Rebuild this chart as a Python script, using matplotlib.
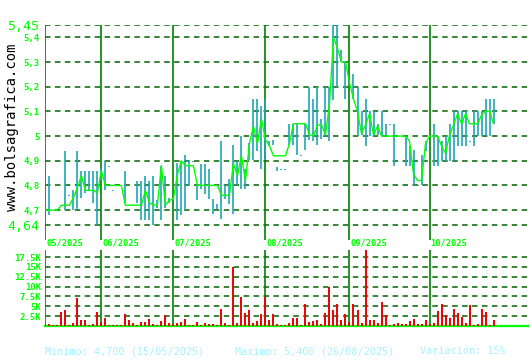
import numpy as np
import matplotlib
matplotlib.use("Agg")
import matplotlib.pyplot as plt
from matplotlib.transforms import blended_transform_factory

# cierres diarios (indice de sesion)
close = [4.70, 4.70, 4.70, 4.70, 4.72, 4.72, 4.72, 4.75, 4.79, 4.84,
         4.78, 4.78, 4.78, 4.77, 4.86, 4.80, 4.80, 4.80, 4.80, 4.80,
         4.72, 4.72, 4.72, 4.72, 4.72, 4.78, 4.73, 4.72, 4.72, 4.88,
         4.72, 4.74, 4.745, 4.845, 4.90, 4.88, 4.88, 4.88, 4.80, 4.80,
         4.80, 4.80, 4.80, 4.80, 4.76, 4.76, 4.76, 4.89, 4.84, 4.92,
         4.82, 4.97, 5.04, 4.97, 5.07, 4.985, 4.96, 4.92, 4.92, 4.92,
         4.92, 4.97, 5.05, 5.05, 5.05, 5.05, 5.005, 5.00, 5.045, 5.045,
         5.005, 5.13, 5.40, 5.355, 5.30, 5.30, 5.215, 5.15, 5.10, 5.01,
         5.045, 5.09, 5.005, 5.04, 5.00, 5.00, 5.00, 5.00, 5.00, 5.00,
         5.00, 4.98, 4.845, 4.82, 4.82, 4.97, 5.00, 5.00, 5.00, 4.96,
         4.93, 5.005, 5.045, 5.09, 5.05, 5.09, 5.05, 5.05, 5.05, 5.085,
         5.10, 5.10, 5.05]

nan = np.nan
high = [nan, 4.84, nan, nan, nan, 4.94, 4.76, 4.78, 4.94, 4.86,
        4.86, 4.86, 4.86, 4.86, 4.87, 4.90, 4.88, 4.78, nan, nan,
        4.86, nan, nan, 4.82, 4.82, 4.84, 4.82, 4.84, 4.74, 4.88,
        4.84, 4.75, nan, 4.89, 4.90, 4.925, 4.905, 4.90, 4.80, 4.885,
        4.885, 4.865, 4.745, 4.725, 4.98, 4.80, 4.825, 4.965, 4.90, 5.00,
        4.865, 4.97, 5.15, 5.15, 5.12, 5.15, 4.98, 4.985, 4.875, 4.865,
        4.865, 5.05, 5.05, 5.05, 4.925, 5.05, 5.20, 5.15, 5.20, 5.07,
        5.20, 5.20, 5.45, 5.45, 5.35, 5.30, nan, 5.25, 5.20, 5.10,
        5.15, 5.10, 5.10, 5.05, 5.10, 5.05, 5.05, 5.05, nan, nan,
        5.00, 4.96, 4.945, 4.80, 4.925, 4.98, nan, 5.05, 5.00, 4.98,
        5.00, 5.05, 5.10, 5.10, 5.10, 5.10, 4.98, 5.10, 5.10, 5.10,
        5.15, 5.15, 5.15]
low = [nan, 4.68, nan, nan, nan, 4.70, 4.76, 4.70, 4.70, 4.75,
       4.77, 4.78, 4.73, 4.64, 4.82, 4.78, 4.88, 4.78, nan, nan,
       4.73, nan, nan, 4.73, 4.66, 4.66, 4.66, 4.64, 4.71, 4.66,
       4.71, 4.73, nan, 4.66, 4.68, 4.70, 4.80, 4.90, 4.74, 4.785,
       4.765, 4.745, 4.685, 4.705, 4.665, 4.745, 4.725, 4.685, 4.80, 4.785,
       4.785, 4.905, 4.905, 4.94, 4.865, 4.905, 4.96, 4.965, 4.86, 4.865,
       4.865, 4.965, 4.965, 4.925, 4.925, 4.945, 4.985, 4.98, 4.965, 4.99,
       5.00, 4.98, 5.145, 5.20, 5.30, 5.15, nan, 5.15, 5.00, 5.005,
       4.96, 5.00, 5.00, 5.005, 5.00, 5.00, 5.05, 4.88, nan, nan,
       4.88, 4.88, 4.80, 4.80, 4.80, 4.94, nan, 4.88, 4.88, 4.90,
       4.90, 4.90, 4.90, 4.96, 4.96, 4.96, 4.98, 4.96, 5.00, 5.00,
       5.00, 5.00, 5.05]

# volumen en miles de titulos
volume = [0.5, 0.5, 0.25, 0.25, 3.6, 4.1, 0.25, 0.8, 7.2, 1.5,
          1.5, 0.25, 0.5, 3.6, 1.0, 2.0, 0.25, 0.25, 0.25, 0.25,
          3.1, 1.5, 0.8, 0.25, 1.0, 1.0, 1.8, 0.5, 0.25, 1.3,
          2.8, 0.8, 0.5, 0.8, 1.0, 1.8, 0.25, 0.25, 1.0, 0.25,
          0.8, 0.5, 0.5, 0.25, 4.4, 0.8, 0.25, 15.1, 0.8, 7.4,
          3.3, 4.1, 0.8, 1.3, 3.1, 7.3, 1.5, 3.1, 0.5, 0.25,
          0.25, 0.8, 2.0, 2.0, 0.25, 5.6, 1.0, 1.3, 1.5, 0.5,
          3.3, 10.0, 4.1, 5.6, 1.5, 3.1, 1.0, 5.6, 4.1, 0.8,
          19.3, 1.5, 1.5, 0.8, 6.2, 2.8, 0.25, 0.5, 0.8, 0.5,
          0.5, 1.3, 1.8, 0.5, 0.5, 1.5, 0.5, 0.8, 3.8, 5.6,
          2.8, 2.0, 4.4, 3.3, 2.3, 0.8, 5.4, 0.25, 0.5, 4.4,
          3.6, 0.25, 1.5]

month_idx = [0, 14, 32, 55, 76, 96]
month_labels = ["05/2025", "06/2025", "07/2025", "08/2025", "09/2025", "10/2025"]

price_ticks = [4.64, 4.7, 4.8, 4.9, 5.0, 5.1, 5.2, 5.3, 5.4, 5.45]
price_labels = ["4,64", "4,7", "4,8", "4,9", "5", "5,1", "5,2", "5,3", "5,4", "5,45"]
vol_ticks = [2.5, 5, 7.5, 10, 12.5, 15, 17.5]
vol_labels = ["2.5K", "5K", "7.5K", "10K", "12.5K", "15K", "17.5K"]

LIME = "#00ff00"
GRID = "#006400"
MONTH = "#008000"
TEAL = "#1ea5b4"
MONO = "DejaVu Sans Mono"

x = np.arange(len(close))
high = np.array(high)
low = np.array(low)
# dias con maximo == minimo se ven como un punto
low_draw = np.where(high == low, low - 0.004, low)

W, H = 530, 360
fig = plt.figure(figsize=(W / 100, H / 100), dpi=100)
fig.patch.set_facecolor("white")

ax = fig.add_axes([45 / W, 120 / H, 483 / W, 215 / H])
ax.set_xlim(-0.08, 120.6)
ax.set_ylim(4.579, 5.45)
for s in ax.spines.values():
    s.set_visible(False)
ax.set_xticks([])
ax.set_yticks(price_ticks)
ax.set_yticklabels(price_labels)
ax.tick_params(axis="y", length=0, pad=4, labelcolor=LIME)
for t in ax.get_yticklabels():
    t.set_fontfamily(MONO)
    if t.get_text() in ("5,45", "4,64"):
        t.set_fontsize(9.5)
    else:
        t.set_fontsize(6.5)
        t.set_fontweight("bold")

for p in price_ticks:
    ax.axhline(p, color=GRID, lw=1.1, ls=(0, (3.6, 2.9)), zorder=1)
for m in month_idx:
    ax.axvline(m, color=MONTH, lw=1.2, zorder=2)

ax.vlines(x, low_draw, high, color=TEAL, lw=1.2, zorder=3)
ax.plot(x, close, color=LIME, lw=1.0, zorder=4)

# volumen
ax2 = fig.add_axes([45 / W, 34 / H, 483 / W, 76 / H])
ax2.set_xlim(-0.08, 120.6)
ax2.set_ylim(0, 19.3)
for s in ax2.spines.values():
    s.set_visible(False)
ax2.spines["bottom"].set_visible(True)
ax2.spines["bottom"].set_color(LIME)
ax2.spines["bottom"].set_linewidth(1.6)
ax2.set_xticks([])
ax2.set_yticks(vol_ticks)
ax2.set_yticklabels(vol_labels, fontfamily=MONO, fontweight="bold", fontsize=6.5)
ax2.tick_params(axis="y", length=0, pad=3, labelcolor=LIME)
for v in vol_ticks:
    ax2.axhline(v, color=GRID, lw=1.1, ls=(0, (3.6, 2.9)), zorder=1)
for m in month_idx:
    ax2.axvline(m, color=MONTH, lw=1.2, zorder=2)
ax2.vlines(x, 0, volume, color="#ee0000", lw=1.4, zorder=3)

# etiquetas de mes entre los dos paneles
tr = blended_transform_factory(ax.transData, fig.transFigure)
for m, lab in zip(month_idx, month_labels):
    fig.text(m + 0.2, 1 - 243 / H, lab, transform=tr, ha="left", va="center",
             color=LIME, fontsize=6.3, fontfamily=MONO, fontweight="bold")

fig.text(12.5 / W, 1 - 127 / H, "www.bolsagrafica.com", rotation=90,
         ha="center", va="center", fontsize=10, fontfamily=MONO, color="black")

foot_y = 1 - 351 / H
fig.text(45 / W, foot_y, "Minimo: 4,700 (15/05/2025)", color="#a8f0ff",
         fontsize=7.3, fontfamily=MONO, va="center")
fig.text(235 / W, foot_y, "Maximo: 5,400 (26/08/2025)", color="#a8f0ff",
         fontsize=7.3, fontfamily=MONO, va="center")
fig.text(420 / W, foot_y, "Variación: 15%", color="#a8f0ff",
         fontsize=7.3, fontfamily=MONO, va="center")

fig.savefig("out.png", dpi=100, facecolor="white")
